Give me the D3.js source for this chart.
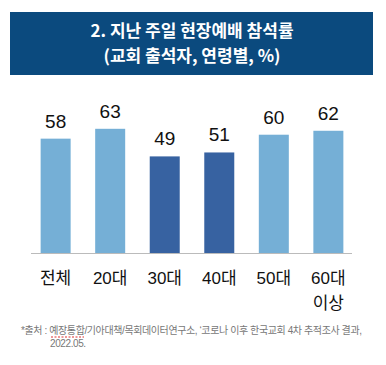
<!DOCTYPE html>
<html>
<head>
<meta charset="utf-8">
<script src="https://cdn.jsdelivr.net/npm/d3@7"></script>
<style>
  body { margin: 0; background: #fff; }
  text { font-family: "Liberation Sans", "Noto Sans CJK KR", sans-serif; }
  text.title { font-family: "Noto Sans CJK KR", sans-serif; }
</style>
</head>
<body>
<div class="chart"></div>
<script>
// data
var categories = ["전체", "20대", "30대", "40대", "50대", "60대 이상"];
var values = [58, 63, 49, 51, 60, 62];
var highlight = [false, false, true, true, false, false];
var titleLines = ["2. 지난 주일 현장예배 참석률", "(교회 출석자, 연령별, %)"];
var sourceLines = ["*출처 : 예장통합/기아대책/목회데이터연구소, ‘코로나 이후 한국교회 4차 추적조사 결과,", "2022.05."];

var svgWidth = 386, svgHeight = 365;
var svg = d3.select(".chart").append("svg")
    .attr("width", svgWidth)
    .attr("height", svgHeight);

// title box
svg.append("rect")
    .attr("x", 10).attr("y", 12)
    .attr("width", 363).attr("height", 63)
    .attr("fill", "#0b4a7e");
svg.selectAll(".title").data(titleLines).enter()
    .append("text")
    .attr("class", "title")
    .attr("x", 192)
    .attr("y", (d, i) => 37 + i * 25)
    .attr("text-anchor", "middle")
    .attr("fill", "#fff")
    .attr("font-size", "17px")
    .attr("font-weight", "bold")
    .text(d => d);

// scales
var baseline = 253;
var xScale = d3.scaleBand()
    .domain(categories)
    .range([27, 357])
    .paddingInner(0.45)
    .paddingOuter(0.25);
var yScale = d3.scaleLinear()
    .domain([0, 70])
    .range([baseline, baseline - 138]);

var chartGroup = svg.append("g");

chartGroup.selectAll(".bar").data(values).enter()
    .append("rect")
    .attr("class", "bar")
    .attr("x", (d, i) => xScale(categories[i]))
    .attr("y", d => yScale(d))
    .attr("width", xScale.bandwidth())
    .attr("height", d => baseline - yScale(d))
    .attr("fill", (d, i) => highlight[i] ? "#3762a1" : "#75afd6");

// value labels
chartGroup.selectAll(".val").data(values).enter()
    .append("text")
    .attr("class", "val")
    .attr("x", (d, i) => xScale(categories[i]) + xScale.bandwidth() / 2)
    .attr("y", d => yScale(d) - 11)
    .attr("text-anchor", "middle")
    .attr("font-size", "19px")
    .attr("fill", "#111")
    .text(d => d);

// axis line
var bottomAxis = d3.axisBottom(xScale).tickSize(0).tickFormat("");
chartGroup.append("g")
    .attr("transform", `translate(0, ${baseline})`)
    .call(bottomAxis)
    .call(g => g.select(".domain").attr("stroke", "#bbb").attr("d", "M31,0.5H352"));

// category labels (wrap "60대 이상")
var catLabels = chartGroup.selectAll(".cat").data(categories).enter()
    .append("text")
    .attr("class", "cat")
    .attr("text-anchor", "middle")
    .attr("font-size", "17px")
    .attr("fill", "#111");
catLabels.each(function(d) {
    var parts = d.split(" ");
    var cx = xScale(d) + xScale.bandwidth() / 2;
    d3.select(this).selectAll("tspan").data(parts).enter()
        .append("tspan")
        .attr("x", cx)
        .attr("y", (p, j) => 284 + j * 25)
        .text(p => p);
});

// source note
svg.selectAll(".src").data(sourceLines).enter()
    .append("text")
    .attr("class", "src")
    .attr("x", (d, i) => i === 0 ? 21 : 50)
    .attr("y", (d, i) => 334 + i * 12.5)
    .attr("font-size", "10px")
    .attr("letter-spacing", "-0.4px")
    .attr("fill", "#777")
    .text(d => d);

// spell-check squiggle under 예장통합
svg.append("line")
    .attr("x1", 51).attr("x2", 84)
    .attr("y1", 337).attr("y2", 337)
    .attr("stroke", "#e03030")
    .attr("stroke-width", 1.2)
    .attr("stroke-dasharray", "2,1.5");
</script>
</body>
</html>
